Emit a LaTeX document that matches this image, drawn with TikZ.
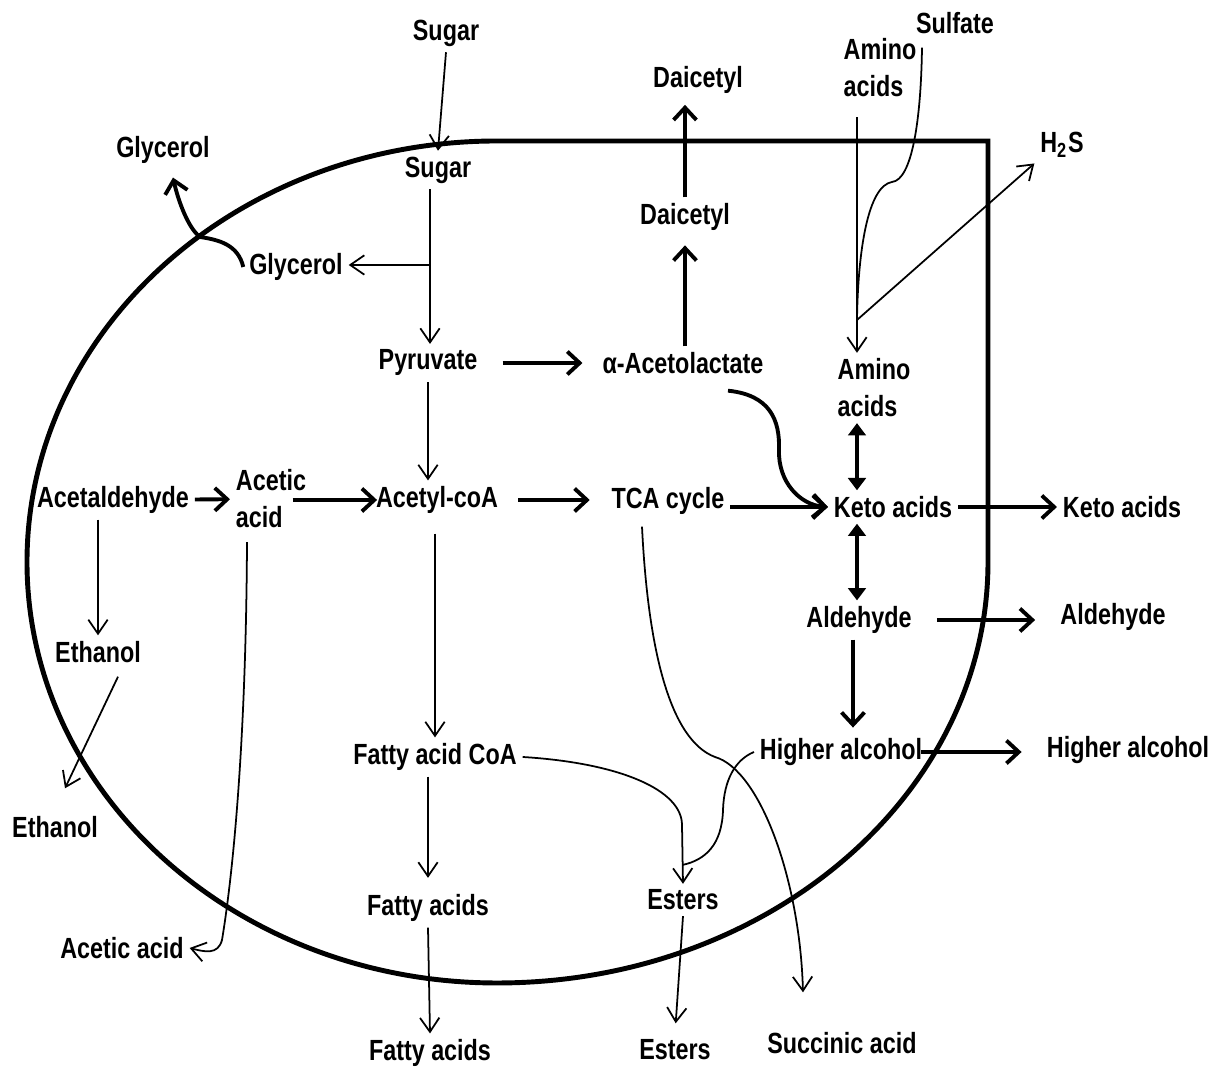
\documentclass[tikz,border=0pt]{standalone}
\usepackage{fontspec}
\setmainfont{Liberation Sans}[FakeStretch=0.8]
\usepackage{tikz}
\usetikzlibrary{arrows.meta,calc}

\begin{document}
\begin{tikzpicture}[x=0.01cm,y=-0.01cm,
  every node/.style={font=\bfseries\fontsize{8.3}{10.5}\selectfont,inner sep=1.5pt},
  thinarr/.style={line width=0.5pt,-{Straight Barb[length=4pt,width=5.5pt]}},
  thickarr/.style={line width=1.1pt,-{Straight Barb[length=3.5pt,width=6.5pt]}},
  bothway/.style={line width=1.3pt,{Triangle[length=3.5pt,width=5pt]}-{Triangle[length=3.5pt,width=5pt]}},
  cell/.style={line width=1.4pt}]
\useasboundingbox (0,0) rectangle (1223,1071);
\draw[cell] (497,141) -- (988,141) -- (988,562)
  arc[start angle=0,end angle=90,x radius=491,y radius=421]
  arc[start angle=90,end angle=270,x radius=470,y radius=421] -- cycle;
\node (sugarout) at (446,33) {Sugar};
\node (sugarin) at (438,170) {Sugar};
\node (glyout) at (163,150) {Glycerol};
\node (glyin) at (296,267) {Glycerol};
\node (pyr) at (428,363) {Pyruvate};
\node (acl) at (683,363) {α-Acetolactate};
\node (daiin) at (685,217) {Daicetyl};
\node (daiout) at (698,80) {Daicetyl};
\node (acald) at (113,500) {Acetaldehyde};
\node[align=left] (aceticin) at (271,499) {Acetic\\acid};
\node (acoa) at (437,500) {Acetyl-coA};
\node (tca) at (668,501) {TCA cycle};
\node (ketoin) at (893,507) {Keto acids};
\node (ketoout) at (1122,507) {Keto acids};
\node[align=left] (aminoout) at (880,68) {Amino\\acids};
\node (sulfate) at (955,23) {Sulfate};
\node[align=left] (aminoin) at (874,388) {Amino\\acids};
\node (h2s) at (1062,145) {H\textsubscript{2}S};
\node (aldin) at (859,620) {Aldehyde};
\node (aldout) at (1113,617) {Aldehyde};
\node (hain) at (841,752) {Higher alcohol};
\node (haout) at (1128,750) {Higher alcohol};
\node (facoa) at (435,757) {Fatty acid CoA};
\node (fain) at (428,908) {Fatty acids};
\node (faout) at (430,1053) {Fatty acids};
\node (esin) at (683,900) {Esters};
\node (esout) at (675,1050) {Esters};
\node (succ) at (842,1043) {Succinic acid};
\node (ethin) at (98,652) {Ethanol};
\node (ethout) at (55,827) {Ethanol};
\node (aceout) at (122,948) {Acetic acid};
\coordinate (sbr) at (430,265);
\coordinate (sjoin) at (857,320);
\draw[thinarr] (sugarout.south) -- (sugarin.north);
\draw[thinarr] (sugarin.south -| sbr) -- (pyr.north -| sbr);
\draw[thinarr] (sbr) -- (sbr -| glyin.east);
\draw[thickarr] (glyin.west) .. controls (238,245) and (220,240) .. (200,237)
  .. controls (188,228) and (178,200) .. ($(glyout.south)+(10,8)$);
\draw[thickarr,shorten <=5.5pt,shorten >=4pt] (pyr) -- (acl);
\draw[thickarr,shorten >=2.5pt] (acl.north -| daiin) -- (daiin.south);
\draw[thickarr,shorten >=1.5pt] (daiin.north) -- (daiin.north |- daiout.south);
\draw[thinarr] (pyr.south) -- (pyr.south |- acoa.north);
\draw[thickarr] (acald) -- (aceticin);
\draw[thickarr,shorten <=-5.5pt,shorten >=-2pt] (aceticin.east |- acoa.west) -- (acoa.west);
\draw[thickarr,shorten <=4pt,shorten >=4.5pt] (acoa) -- (acoa -| tca.west);
\draw[thickarr] (tca.east |- ketoin.west) -- (ketoin.west);
\draw[thickarr] ($(acl.south)+(45,11)$) .. controls (770,395) and (780,420) .. (779,450)
  .. controls (778,482) and (800,505) .. (ketoin.west);
\draw[thickarr] (ketoin) -- (ketoout);
\draw[thinarr,shorten <=4pt] (aminoout.south -| sjoin) -- (aminoin.north -| sjoin);
\draw[line width=0.5pt] ($(sulfate.south)+(-33,8)$) .. controls (921,120) and (912,180) .. (892,182)
  .. controls (868,186) and (858,250) .. (sjoin);
\draw[thinarr] (sjoin) -- (h2s.south west);
\draw[bothway] (aminoin.south -| sjoin) -- (ketoin.north -| sjoin);
\draw[bothway] (ketoin.south -| sjoin) -- (aldin.north -| sjoin);
\draw[thickarr,shorten <=5.5pt,shorten >=5.5pt] (aldin) -- (aldin -| aldout.west);
\draw[thickarr] (aldin.south -| hain) ++(12,0) -- ++(0,88);
\draw[thickarr,shorten <=-2pt,shorten >=5.5pt] (hain) -- (hain -| haout.west);
\draw[thinarr,shorten <=4pt] (acoa.south -| facoa) -- (facoa.north);
\draw[thinarr,shorten >=3pt] (facoa.south -| fain) -- (fain.north);
\draw[thinarr] (fain.south) -- (faout.north);
\draw[thinarr,shorten >=3pt] (esin.south) -- (esout.north);
\draw[thinarr] (facoa.east) .. controls (620,763) and (682,790) .. (682,825) -- (esin.north);
\draw[line width=0.5pt] (hain.west) .. controls (735,760) and (724,780) .. (723,810)
  .. controls (722,845) and (705,860) .. ($(esin.north)+(0,-19)$);
\draw[thinarr] ($(tca.south)+(-26,6)$) .. controls (648,650) and (670,740) .. (715,757)
  .. controls (760,770) and (800,880) .. ($(succ.north)+(-39,-34)$);
\draw[thinarr] (acald.south -| ethin) -- (ethin.north);
\draw[thinarr] ($(ethin.south)+(20,8)$) -- ($(ethout.north)+(10,-22)$);
\draw[thinarr] ($(aceticin.south)+(-24,8)$) .. controls (246,750) and (232,880) .. (222,940)
  .. controls (218,955) and (205,952) .. (aceout.east);
\end{tikzpicture}
\end{document}
